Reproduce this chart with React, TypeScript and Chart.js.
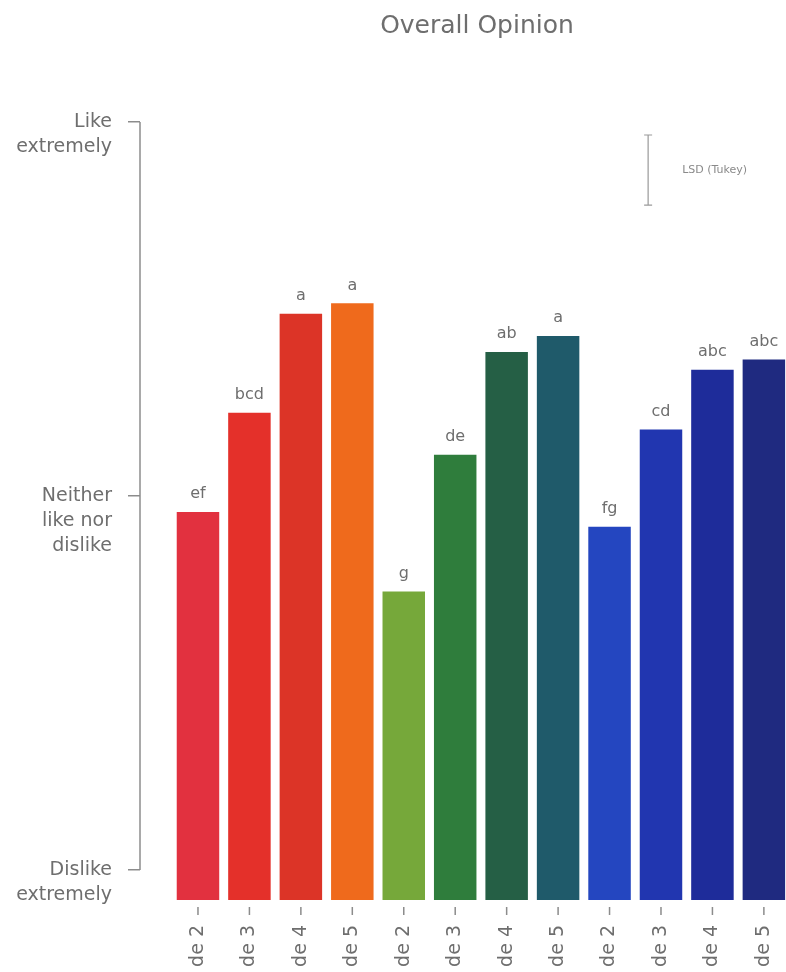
import { useEffect, useRef } from "react";
import { Chart, registerables } from "chart.js";

Chart.register(...registerables);

// ---- data ----
const title = "Overall Opinion";
const samples = ["de 2", "de 3", "de 4", "de 5", "de 2", "de 3", "de 4", "de 5", "de 2", "de 3", "de 4", "de 5"];
const scores = [4.83, 5.89, 6.95, 7.06, 3.98, 5.44, 6.54, 6.71, 4.67, 5.71, 6.35, 6.46];
const groups = ["ef", "bcd", "a", "a", "g", "de", "ab", "a", "fg", "cd", "abc", "abc"];
const barColors = [
  "#e2313f", "#e4302a", "#dc3427", "#ef6a1c",
  "#76a83a", "#2f7d3c", "#255f45", "#1f5a6a",
  "#2446c0", "#2136b0", "#1e2c9a", "#1f2a80",
];
const scaleTicks = [1, 5, 9];
const scaleLabels = [
  ["Dislike", "extremely"],
  ["Neither", "like nor", "dislike"],
  ["Like", "extremely"],
];
const lsdTop = 8.86;
const lsd = 0.75;
const lsdLabel = "LSD (Tukey)";

const FONT = "'DejaVu Sans', sans-serif";
const TEXT = "#6e6e6e";
const AXIS = "#8c8c8c";

const decor = {
  id: "decor",
  afterDatasetsDraw(chart: any) {
    const { ctx } = chart;
    const meta = chart.getDatasetMeta(0);
    ctx.save();
    ctx.fillStyle = TEXT;
    ctx.font = `16px ${FONT}`;
    ctx.textAlign = "center";
    ctx.textBaseline = "middle";
    meta.data.forEach((bar: any, i: number) => {
      ctx.fillText(groups[i], bar.x, bar.y - 18);
    });
    ctx.restore();
  },
  afterDraw(chart: any) {
    const { ctx, chartArea } = chart;
    const x = chart.scales.x;
    const y = chart.scales.y;
    ctx.save();

    // heading
    ctx.fillStyle = TEXT;
    ctx.font = `25px ${FONT}`;
    ctx.textAlign = "center";
    ctx.textBaseline = "middle";
    ctx.fillText(title, (chartArea.left + chartArea.right) / 2 + 14, 26);

    // value axis line spans only the first to the last tick
    ctx.strokeStyle = AXIS;
    ctx.lineWidth = 1.5;
    ctx.beginPath();
    ctx.moveTo(chartArea.left, y.getPixelForValue(scaleTicks[0]));
    ctx.lineTo(chartArea.left, y.getPixelForValue(scaleTicks[scaleTicks.length - 1]));
    ctx.stroke();

    // category tick marks, set slightly below the bars
    ctx.beginPath();
    samples.forEach((_, i) => {
      const px = x.getPixelForValue(i);
      ctx.moveTo(px, chartArea.bottom + 7);
      ctx.lineTo(px, chartArea.bottom + 15);
    });
    ctx.stroke();

    // LSD reference bar
    const lx = x.getPixelForValue(8.75);
    const ly1 = y.getPixelForValue(lsdTop);
    const ly2 = y.getPixelForValue(lsdTop - lsd);
    ctx.strokeStyle = "#9a9a9a";
    ctx.lineWidth = 1.2;
    ctx.beginPath();
    ctx.moveTo(lx, ly1);
    ctx.lineTo(lx, ly2);
    ctx.moveTo(lx - 4, ly1);
    ctx.lineTo(lx + 4, ly1);
    ctx.moveTo(lx - 4, ly2);
    ctx.lineTo(lx + 4, ly2);
    ctx.stroke();
    ctx.fillStyle = "#8a8a8a";
    ctx.font = `11px ${FONT}`;
    ctx.textAlign = "left";
    ctx.fillText(lsdLabel, lx + 34, (ly1 + ly2) / 2);

    ctx.restore();
  },
};

export default function App() {
  const canvasRef = useRef<HTMLCanvasElement | null>(null);

  useEffect(() => {
    const canvas = canvasRef.current;
    if (!canvas) return;
    const chart = new Chart(canvas, {
      type: "bar",
      data: {
        datasets: [
          {
            data: scores.map((v, i) => ({ x: i, y: v })),
            backgroundColor: barColors,
            borderWidth: 0,
            barPercentage: 0.826,
            categoryPercentage: 1,
          },
        ],
      },
      options: {
        responsive: false,
        maintainAspectRatio: false,
        animation: false,
        layout: { padding: { top: 92, left: 0, right: 0, bottom: 0 } },
        plugins: {
          legend: { display: false },
          tooltip: { enabled: false },
        },
        scales: {
          x: {
            type: "linear",
            min: -1.127,
            max: 11.43,
            offset: false,
            grid: { display: false, drawTicks: false },
            border: { display: false },
            afterBuildTicks: (axis: any) => {
              axis.ticks = samples.map((_, i) => ({ value: i }));
            },
            afterFit: (s: any) => {
              // the plot runs right up to the edge; no room kept for edge labels
              s.height = 72;
              s.paddingLeft = 0;
              s.paddingRight = 0;
            },
            ticks: {
              autoSkip: false,
              minRotation: 90,
              maxRotation: 90,
              padding: 25,
              color: TEXT,
              font: { family: FONT, size: 19 },
              callback: (_v: any, i: number) => samples[i],
            },
          },
          y: {
            type: "linear",
            min: 0.68,
            max: 9.32,
            grid: {
              display: true,
              drawOnChartArea: false,
              drawTicks: true,
              tickLength: 12,
              color: AXIS,
              lineWidth: 1.5,
            },
            border: { display: false },
            afterBuildTicks: (axis: any) => {
              axis.ticks = scaleTicks.map((v) => ({ value: v }));
            },
            afterFit: (s: any) => {
              s.width = 140;
              s.paddingTop = 0;
              s.paddingBottom = 0;
            },
            ticks: {
              padding: 16,
              color: TEXT,
              font: { family: FONT, size: 19, lineHeight: 1.32 },
              // blank lines above keep the first line level with its tick
              callback: (value: any) => {
                const lines = scaleLabels[scaleTicks.indexOf(Number(value))] || [];
                return [...Array(Math.max(lines.length - 1, 0)).fill(""), ...lines];
              },
            },
          },
        },
      },
      plugins: [decor],
    } as any);
    return () => chart.destroy();
  }, []);

  return (
    <div
      style={{
        position: "absolute",
        left: 0,
        top: 0,
        width: 786,
        height: 972,
        overflow: "hidden",
        background: "#fff",
      }}
    >
      <canvas ref={canvasRef} width={786} height={972} />
    </div>
  );
}
